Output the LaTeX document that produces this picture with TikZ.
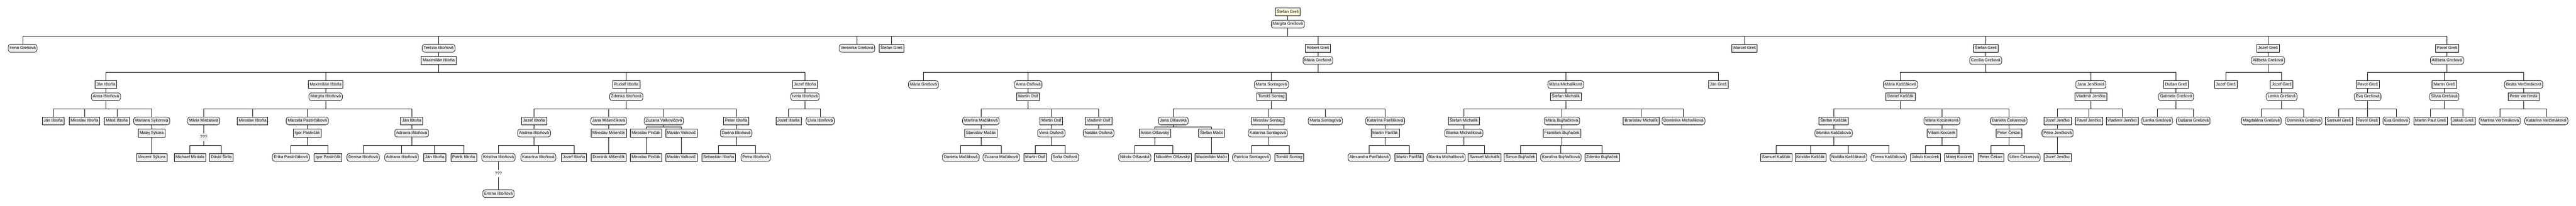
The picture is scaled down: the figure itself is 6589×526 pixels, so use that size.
\documentclass[tikz,border=0pt]{standalone}
\usepackage{fontspec}
\setmainfont{Liberation Sans}
\definecolor{boxfill}{HTML}{F0F0F0}
\definecolor{rootfill}{HTML}{FFFBDC}
\newcommand\nfont{\fontsize{10.5}{12}\selectfont}
\tikzset{
  person/.style={draw=black, fill=boxfill, rectangle, line width=1pt, minimum height=20pt,
    inner xsep=3.7pt, inner ysep=0pt, text height=8pt, text depth=2.5pt, font=\nfont},
  boxm/.style={person},
  boxf/.style={person, rounded corners=6pt},
  boxroot/.style={person, fill=rootfill},
  unknown/.style={fill=boxfill, inner xsep=3pt, inner ysep=0pt, minimum height=19pt,
    text height=8pt, text depth=2.5pt, font=\nfont},
  conn/.style={draw=black, line width=1pt}
}
\newcommand\famline[3]{%
  \path (0,#2) coordinate (famy);
  \path (#1.south |- famy) coordinate (famb);
  \draw[conn] (#1.south) -- (famb);
  \foreach \c in {#3} {\draw[conn] (famb) -| (\c.north);}
}
\newcommand\spouse[2]{\draw[conn] (#1.south) -- (#2.north);}
\def\yA{30.5}\def\yAs{61.7}\def\bA{92.3}
\def\yB{123.5}\def\yBs{154.7}\def\bB{185.2}
\def\yC{216.4}\def\yCs{247.6}\def\bC{278.5}
\def\yD{309.4}\def\yDs{340.6}\def\mD{324.8}\def\qD{351.3}\def\bD{371.5}
\def\yE{402.7}\def\qE{444}\def\yF{495.6}
\begin{document}
\begin{tikzpicture}[x=1pt,y=-1pt]
\fill[white] (0,0) rectangle (6589,526);
\useasboundingbox (0,0) rectangle (6589,526);
% level 0
\node[boxroot] (root) at (3294,\yA) {Štefan Greš};
\node[boxf] (rootsp) at (3294,\yAs) {Margita Grešová};
% level 1
\node[boxf] (b1) at (58,\yB) {Irena Grešová};
\node[boxf] (b2) at (1122,\yB) {Terézia Ištoňová};
\node[boxm] (b2s) at (1122,\yBs) {Maximilián Ištoňa};
\node[boxf] (b3) at (2192,\yB) {Veronika Grešová};
\node[boxm] (b4) at (2280,\yB) {Štefan Greš};
\node[boxm] (b5) at (3371,\yB) {Róbert Greš};
\node[boxf] (b5s) at (3371,\yBs) {Mária Grešová};
\node[boxm] (b6) at (4462.5,\yB) {Marcel Greš};
\node[boxm] (b7) at (5079,\yB) {Štefan Greš};
\node[boxf] (b7s) at (5079,\yBs) {Cecília Grešová};
\node[boxm] (b8) at (5801,\yB) {Jozef Greš};
\node[boxf] (b8s) at (5801,\yBs) {Alžbeta Grešová};
\node[boxm] (b9) at (6259,\yB) {Pavol Greš};
\node[boxf] (b9s) at (6259,\yBs) {Alžbeta Grešová};
% level 2
\node[boxm] (c1) at (271,\yC) {Ján Ištoňa};
\node[boxf] (c1s) at (271,\yCs) {Anna Ištoňová};
\node[boxm] (c2) at (833,\yC) {Maximilián Ištoňa};
\node[boxf] (c2s) at (833,\yCs) {Margita Ištoňová};
\node[boxm] (c3) at (1602,\yC) {Rudolf Ištoňa};
\node[boxf] (c3s) at (1602,\yCs) {Zdenka Ištoňová};
\node[boxm] (c4) at (2059,\yC) {Jozef Ištoňa};
\node[boxf] (c4s) at (2059,\yCs) {Iveta Ištoňová};
\node[boxf] (c5) at (2362,\yC) {Mária Grešová};
\node[boxf] (c6) at (2630,\yC) {Anna Osifová};
\node[boxm] (c6s) at (2630,\yCs) {Martin Osif};
\node[boxf] (c7) at (3252,\yC) {Marta Sontagová};
\node[boxm] (c7s) at (3252,\yCs) {Tomáš Sontag};
\node[boxf] (c8) at (4005,\yC) {Mária Michalíková};
\node[boxm] (c8s) at (4005,\yCs) {Štefan Michalík};
\node[boxm] (c9) at (4395,\yC) {Ján Greš};
\node[boxf] (c10) at (4861,\yC) {Mária Kaščáková};
\node[boxm] (c10s) at (4861,\yCs) {Daniel Kaščák};
\node[boxf] (c11) at (5348,\yC) {Jana Jenčková};
\node[boxm] (c11s) at (5348,\yCs) {Vladimír Jenčko};
\node[boxm] (c12) at (5566,\yC) {Dušan Greš};
\node[boxf] (c12s) at (5566,\yCs) {Gabriela Grešová};
\node[boxm] (c13) at (5693,\yC) {Jozef Greš};
\node[boxm] (c14) at (5836,\yC) {Jozef Greš};
\node[boxf] (c14s) at (5836,\yCs) {Lenka Grešová};
\node[boxm] (c15) at (6056,\yC) {Pavol Greš};
\node[boxf] (c15s) at (6056,\yCs) {Eva Grešová};
\node[boxm] (c16) at (6252,\yC) {Martin Greš};
\node[boxf] (c16s) at (6252,\yCs) {Silvia Grešová};
\node[boxf] (c17) at (6455,\yC) {Beáta Verčimáková};
\node[boxm] (c17s) at (6455,\yCs) {Peter Verčimák};
% level 3
\node[boxm] (d1) at (136,\yD) {Ján Ištoňa};
\node[boxm] (d2) at (216,\yD) {Miroslav Ištoňa};
\node[boxm] (d3) at (299,\yD) {Miloš Ištoňa};
\node[boxf] (d4) at (388,\yD) {Mariana Sýkorová};
\node[boxm] (d4s) at (388,\yDs) {Matej Sýkora};
\node[boxf] (d5) at (521,\yD) {Mária Mirdalová};
\node[unknown] (d5q) at (521,\qD) {???};
\node[boxm] (d6) at (646,\yD) {Miroslav Ištoňa};
\node[boxf] (d7) at (786,\yD) {Marcela Pastirčáková};
\node[boxm] (d7s) at (786,\yDs) {Igor Pastirčák};
\node[boxm] (d8) at (1053,\yD) {Ján Ištoňa};
\node[boxf] (d8s) at (1053,\yDs) {Adriana Ištoňová};
\node[boxm] (d9) at (1366,\yD) {Jozef Ištoňa};
\node[boxf] (d9s) at (1366,\yDs) {Andrea Ištoňová};
\node[boxf] (d10) at (1557,\yD) {Jana Mišenčíková};
\node[boxm] (d10s) at (1557,\yDs) {Miroslav Mišenčík};
\node[boxf] (d11) at (1698,\yD) {Zuzana Valkovičová};
\node[boxm] (d11sa) at (1652.5,\yDs) {Miroslav Pinčák};
\node[boxm] (d11sb) at (1743,\yDs) {Marián Valkovič};
\node[boxm] (d12) at (1883,\yD) {Peter Ištoňa};
\node[boxf] (d12s) at (1883,\yDs) {Darina Ištoňová};
\node[boxm] (d13) at (2017,\yD) {Jozef Ištoňa};
\node[boxf] (d14) at (2098,\yD) {Lívia Ištoňová};
\node[boxf] (d15) at (2509,\yD) {Martina Mačáková};
\node[boxm] (d15s) at (2509,\yDs) {Stanislav Mačák};
\node[boxm] (d16) at (2689,\yD) {Martin Osif};
\node[boxf] (d16s) at (2689,\yDs) {Viera Osifová};
\node[boxm] (d17) at (2810,\yD) {Vladimír Osif};
\node[boxf] (d17s) at (2810,\yDs) {Natália Osifová};
\node[boxf] (d18) at (3001,\yD) {Jana Olšavská};
\node[boxm] (d18sa) at (2954,\yDs) {Anton Olšavský};
\node[boxm] (d18sb) at (3099,\yDs) {Štefan Mačo};
\node[boxm] (d19) at (3243,\yD) {Miroslav Sontag};
\node[boxf] (d19s) at (3243,\yDs) {Katarína Sontagová};
\node[boxf] (d20) at (3390,\yD) {Marta Sontagová};
\node[boxf] (d21) at (3543,\yD) {Katarína Pariľáková};
\node[boxm] (d21s) at (3543,\yDs) {Martin Pariľák};
\node[boxm] (d22) at (3744,\yD) {Štefan Michalík};
\node[boxf] (d22s) at (3744,\yDs) {Blanka Michalíková};
\node[boxf] (d23) at (3995,\yD) {Mária Bujňačková};
\node[boxm] (d23s) at (3995,\yDs) {František Bujňaček};
\node[boxm] (d24) at (4198,\yD) {Branislav Michalík};
\node[boxf] (d25) at (4306,\yD) {Dominika Michalíková};
\node[boxm] (d26) at (4690,\yD) {Štefan Kaščák};
\node[boxf] (d26s) at (4690,\yDs) {Monika Kaščáková};
\node[boxf] (d27) at (4967,\yD) {Mária Kocúreková};
\node[boxm] (d27s) at (4967,\yDs) {Viliam Kocúrek};
\node[boxf] (d28) at (5138,\yD) {Daniela Čekanová};
\node[boxm] (d28s) at (5138,\yDs) {Peter Čekan};
\node[boxm] (d29) at (5263,\yD) {Jozef Jenčko};
\node[boxf] (d29s) at (5263,\yDs) {Petra Jenčková};
\node[boxm] (d30) at (5343,\yD) {Pavol Jenčko};
\node[boxm] (d31) at (5428,\yD) {Vladimír Jenčko};
\node[boxf] (d32) at (5517.5,\yD) {Lenka Grešová};
\node[boxf] (d33) at (5610,\yD) {Dušana Grešová};
\node[boxf] (d34) at (5784,\yD) {Magdaléna Grešová};
\node[boxf] (d35) at (5892.5,\yD) {Dominika Grešová};
\node[boxm] (d36) at (5982.5,\yD) {Samuel Greš};
\node[boxm] (d37) at (6056,\yD) {Pavol Greš};
\node[boxf] (d38) at (6129,\yD) {Eva Grešová};
\node[boxm] (d39) at (6217,\yD) {Martin Paul Greš};
\node[boxm] (d40) at (6300,\yD) {Jakub Greš};
\node[boxf] (d41) at (6394,\yD) {Martina Verčimáková};
\node[boxf] (d42) at (6513,\yD) {Katarína Verčimáková};
% level 4
\node[boxm] (e1) at (388,\yE) {Vincent Sýkora};
\node[boxm] (e2) at (486,\yE) {Michael Mirdala};
\node[boxm] (e3) at (566,\yE) {Dávid Širila};
\node[boxf] (e4) at (744,\yE) {Erika Pastirčáková};
\node[boxm] (e5) at (839,\yE) {Igor Pastirčák};
\node[boxf] (e6) at (929,\yE) {Denisa Ištoňová};
\node[boxf] (e7) at (1027,\yE) {Adriana Ištoňová};
\node[boxm] (e8) at (1112,\yE) {Ján Ištoňa};
\node[boxm] (e9) at (1186,\yE) {Patrik Ištoňa};
\node[boxf] (e10) at (1275,\yE) {Kristína Ištoňová};
\node[unknown, fill=white] (e10q) at (1275,\qE) {???};
\node[boxf] (e11) at (1377,\yE) {Katarína Ištoňová};
\node[boxm] (e12) at (1468,\yE) {Jozef Ištoňa};
\node[boxm] (e13) at (1557,\yE) {Dominik Mišenčík};
\node[boxm] (e14) at (1652.5,\yE) {Miroslav Pinčák};
\node[boxm] (e15) at (1743,\yE) {Marián Valkovič};
\node[boxm] (e16) at (1838,\yE) {Sebastián Ištoňa};
\node[boxf] (e17) at (1933,\yE) {Petra Ištoňová};
\node[boxf] (e18) at (2457.5,\yE) {Daniela Mačáková};
\node[boxf] (e19) at (2561,\yE) {Zuzana Mačáková};
\node[boxm] (e20) at (2648,\yE) {Martin Osif};
\node[boxf] (e21) at (2724,\yE) {Soňa Osifová};
\node[boxf] (e22) at (2902.5,\yE) {Nikola Olšavská};
\node[boxm] (e23) at (3000,\yE) {Nikodém Olšavský};
\node[boxm] (e24) at (3099,\yE) {Maximilián Mačo};
\node[boxf] (e25) at (3201,\yE) {Patrícia Sontagová};
\node[boxm] (e26) at (3297.5,\yE) {Tomáš Sontag};
\node[boxf] (e27) at (3502,\yE) {Alexandra Pariľáková};
\node[boxm] (e28) at (3604,\yE) {Martin Pariľák};
\node[boxf] (e29) at (3699,\yE) {Blanka Michalíková};
\node[boxm] (e30) at (3797.5,\yE) {Samuel Michalík};
\node[boxm] (e31) at (3889,\yE) {Šimon Bujňaček};
\node[boxf] (e32) at (3992.5,\yE) {Karolína Bujňačková};
\node[boxm] (e33) at (4098,\yE) {Zdenko Bujňaček};
\node[boxm] (e34) at (4543,\yE) {Samuel Kaščák};
\node[boxm] (e35) at (4631,\yE) {Kristián Kaščák};
\node[boxf] (e36) at (4728,\yE) {Natália Kaščáková};
\node[boxf] (e37) at (4831,\yE) {Timea Kaščáková};
\node[boxm] (e38) at (4925,\yE) {Jakub Kocúrek};
\node[boxm] (e39) at (5011,\yE) {Matej Kocúrek};
\node[boxm] (e40) at (5092.5,\yE) {Peter Čekan};
\node[boxf] (e41) at (5177.5,\yE) {Lilien Čekanová};
\node[boxm] (e42) at (5263,\yE) {Jozef Jenčko};
% level 5
\node[boxf] (f1) at (1275,\yF) {Emma Ištoňová};
% spouse links
\foreach \p/\s in {root/rootsp,b2/b2s,b5/b5s,b7/b7s,b8/b8s,b9/b9s,
  c1/c1s,c2/c2s,c3/c3s,c4/c4s,c6/c6s,c7/c7s,c8/c8s,c10/c10s,c11/c11s,c12/c12s,c14/c14s,c15/c15s,c16/c16s,c17/c17s,
  d4/d4s,d5/d5q,d7/d7s,d8/d8s,d9/d9s,d10/d10s,d12/d12s,d15/d15s,d16/d16s,d17/d17s,d19/d19s,d21/d21s,d22/d22s,d23/d23s,
  d26/d26s,d27/d27s,d28/d28s,d29/d29s,e10/e10q,e10q/f1}
  {\spouse{\p}{\s}}
% families
\famline{rootsp}{\bA}{b1,b2,b3,b4,b5,b6,b7,b8,b9}
\famline{b2s}{\bB}{c1,c2,c3,c4}
\famline{b5s}{\bB}{c5,c6,c7,c8,c9}
\famline{b7s}{\bB}{c10,c11,c12}
\famline{b8s}{\bB}{c13,c14}
\famline{b9s}{\bB}{c15,c16,c17}
\famline{c1s}{\bC}{d1,d2,d3,d4}
\famline{c2s}{\bC}{d5,d6,d7,d8}
\famline{c3s}{\bC}{d9,d10,d11,d12}
\famline{c4s}{\bC}{d13,d14}
\famline{c6s}{\bC}{d15,d16,d17}
\famline{c7s}{\bC}{d18,d19,d20,d21}
\famline{c8s}{\bC}{d22,d23,d24,d25}
\famline{c10s}{\bC}{d26,d27,d28}
\famline{c11s}{\bC}{d29,d30,d31}
\famline{c12s}{\bC}{d32,d33}
\famline{c14s}{\bC}{d34,d35}
\famline{c15s}{\bC}{d36,d37,d38}
\famline{c16s}{\bC}{d39,d40}
\famline{c17s}{\bC}{d41,d42}
\famline{d11}{\mD}{d11sa,d11sb}
\famline{d18}{\mD}{d18sa,d18sb}
\famline{d4s}{\bD}{e1}
\famline{d5q}{\bD}{e2,e3}
\famline{d7s}{\bD}{e4,e5}
\famline{d8s}{\bD}{e6,e7,e8,e9}
\famline{d9s}{\bD}{e10,e11,e12}
\famline{d10s}{\bD}{e13}
\famline{d11sa}{\bD}{e14}
\famline{d11sb}{\bD}{e15}
\famline{d12s}{\bD}{e16,e17}
\famline{d15s}{\bD}{e18,e19}
\famline{d16s}{\bD}{e20,e21}
\famline{d18sa}{\bD}{e22,e23}
\famline{d18sb}{\bD}{e24}
\famline{d19s}{\bD}{e25,e26}
\famline{d21s}{\bD}{e27,e28}
\famline{d22s}{\bD}{e29,e30}
\famline{d23s}{\bD}{e31,e32,e33}
\famline{d26s}{\bD}{e34,e35,e36,e37}
\famline{d27s}{\bD}{e38,e39}
\famline{d28s}{\bD}{e40,e41}
\famline{d29s}{\bD}{e42}
\end{tikzpicture}
\end{document}
